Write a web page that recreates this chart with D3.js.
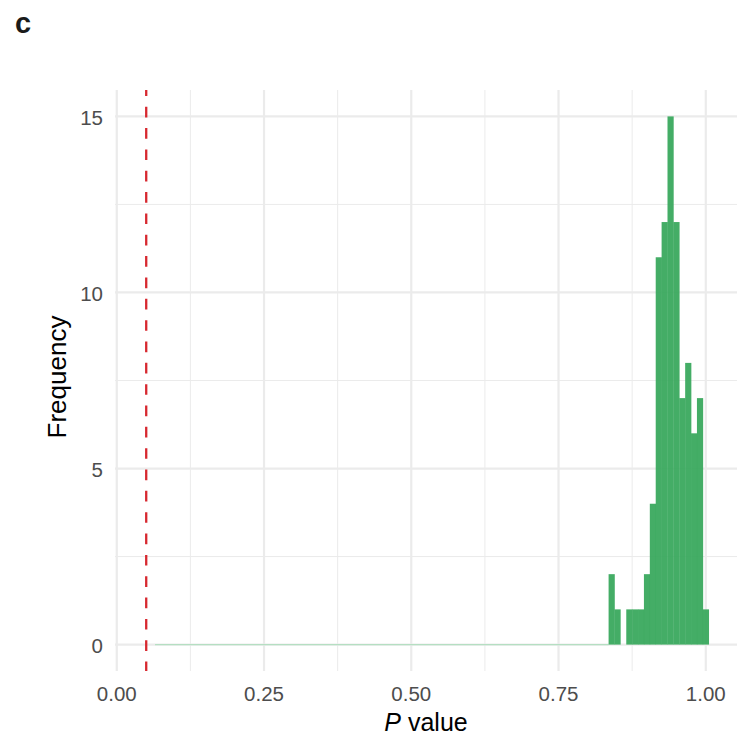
<!DOCTYPE html>
<html>
<head>
<meta charset="utf-8">
<script src="https://cdn.jsdelivr.net/npm/d3@7"></script>
<style>
  html, body { margin: 0; padding: 0; background: #fff; }
  svg { display: block; font-family: "Liberation Sans", Arial, sans-serif; }
</style>
</head>
<body>
<svg id="chart" width="747" height="736"></svg>
<script>
// Histogram of P values, bin width 0.01 (bins centred on 0.84 … 1.00)
const binStarts = [0.835, 0.845, 0.855, 0.865, 0.875, 0.885, 0.895, 0.905, 0.915,
                   0.925, 0.935, 0.945, 0.955, 0.965, 0.975, 0.985, 0.995];
const binCounts = [2, 1, 0, 1, 1, 1, 2, 4, 11, 12, 15, 12, 7, 8, 6, 7, 1];
const binWidth = 0.01;
// empty bins running up from the low end of the data range
const emptyRange = [0.065, 0.835];
const threshold = 0.05;

const xTicks = [0, 0.25, 0.5, 0.75, 1.0];
const xMinor = [0.125, 0.375, 0.625, 0.875];
const yTicks = [0, 5, 10, 15];
const yMinor = [2.5, 7.5, 12.5];

const svg = d3.select("#chart");
const panel = { left: 115, right: 737, top: 90, bottom: 671 };

const x = d3.scaleLinear().domain([-0.003, 1.053]).range([panel.left, panel.right]);
const y = d3.scaleLinear().domain([-0.75, 15.75]).range([panel.bottom, panel.top]);

const grid = svg.append("g");
grid.selectAll(".ymin").data(yMinor).join("line")
  .attr("x1", panel.left).attr("x2", panel.right)
  .attr("y1", d => y(d)).attr("y2", d => y(d))
  .attr("stroke", "#ebebeb").attr("stroke-width", 1);
grid.selectAll(".xmin").data(xMinor).join("line")
  .attr("y1", panel.top).attr("y2", panel.bottom)
  .attr("x1", d => x(d)).attr("x2", d => x(d))
  .attr("stroke", "#ebebeb").attr("stroke-width", 1);
grid.selectAll(".ymaj").data(yTicks).join("line")
  .attr("x1", panel.left).attr("x2", panel.right)
  .attr("y1", d => y(d)).attr("y2", d => y(d))
  .attr("stroke", "#ebebeb").attr("stroke-width", 2.2);
grid.selectAll(".xmaj").data(xTicks).join("line")
  .attr("y1", panel.top).attr("y2", panel.bottom)
  .attr("x1", d => x(d)).attr("x2", d => x(d))
  .attr("stroke", "#ebebeb").attr("stroke-width", 2.2);

// empty bins: zero-height outline along the baseline
svg.append("line")
  .attr("x1", x(emptyRange[0])).attr("x2", x(emptyRange[1]))
  .attr("y1", y(0)).attr("y2", y(0))
  .attr("stroke", "#b5dfc2").attr("stroke-width", 1.2);

// histogram bars
const bins = binStarts.map((s, i) => ({ x0: s, x1: s + binWidth, n: binCounts[i] }));
svg.append("g").selectAll("rect").data(bins.filter(b => b.n > 0)).join("rect")
  .attr("x", d => x(d.x0))
  .attr("width", d => x(d.x1) - x(d.x0) + 0.3)
  .attr("y", d => y(d.n))
  .attr("height", d => y(0) - y(d.n))
  .attr("fill", "#3aa95e")
  .attr("fill-opacity", 0.95);

// significance threshold
svg.append("line")
  .attr("x1", x(threshold)).attr("x2", x(threshold))
  .attr("y1", panel.top).attr("y2", panel.bottom)
  .attr("stroke", "#d7282f").attr("stroke-width", 2.3)
  .attr("stroke-dasharray", "10.67,10.67")
  .attr("stroke-dashoffset", 4.6);

// axis labels
const fmt = d3.format(".2f");
svg.append("g").selectAll("text").data(xTicks).join("text")
  .attr("x", d => x(d)).attr("y", 700.5)
  .attr("text-anchor", "middle")
  .attr("font-size", 20.5).attr("fill", "#4d4d4d")
  .text(d => fmt(d));
svg.append("g").selectAll("text").data(yTicks).join("text")
  .attr("x", 103).attr("y", d => y(d) + 8.4)
  .attr("text-anchor", "end")
  .attr("font-size", 20.5).attr("fill", "#4d4d4d")
  .text(d => d);

const xTitle = svg.append("text")
  .attr("x", 426).attr("y", 730.5)
  .attr("text-anchor", "middle")
  .attr("font-size", 25).attr("fill", "#000");
xTitle.append("tspan").attr("font-style", "italic").text("P");
xTitle.append("tspan").text(" value");

svg.append("text")
  .attr("transform", "translate(66,377) rotate(-90)")
  .attr("text-anchor", "middle")
  .attr("font-size", 26).attr("fill", "#000")
  .text("Frequency");

svg.append("text")
  .attr("x", 15).attr("y", 33)
  .attr("font-size", 29).attr("font-weight", "bold").attr("fill", "#1a1a1a")
  .text("c");
</script>
</body>
</html>
